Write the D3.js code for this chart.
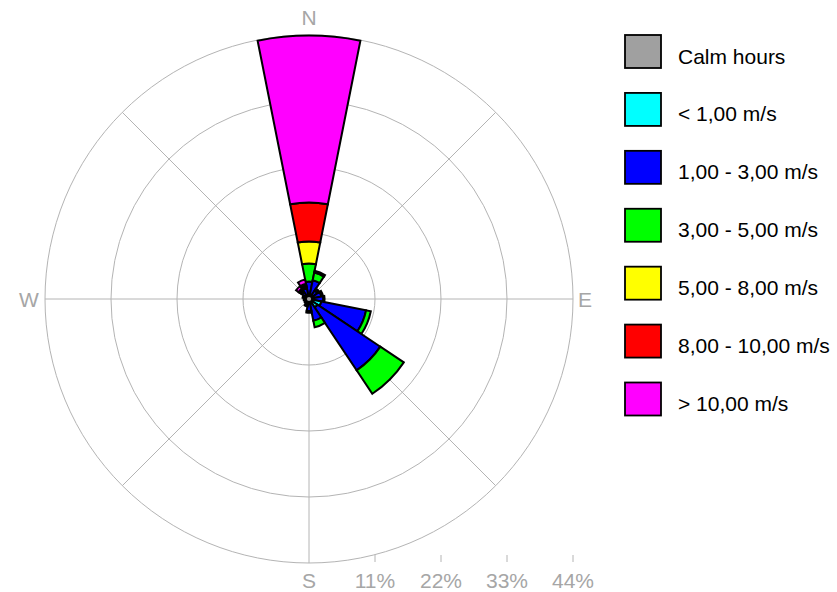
<!DOCTYPE html>
<html><head><meta charset="utf-8">
<script src="https://cdn.jsdelivr.net/npm/d3@7"></script>
<style>body{margin:0;background:#fff}svg{display:block}</style>
</head><body>
<script>
// ---- data ----
const directions = ["N","NNE","NE","ENE","E","ESE","SE","SSE","S","SSW","SW","WSW","W","WNW","NW","NNW"];
const speedClasses = ["< 1,00 m/s","1,00 - 3,00 m/s","3,00 - 5,00 m/s","5,00 - 8,00 m/s","8,00 - 10,00 m/s","> 10,00 m/s"];
const classColors = ["#00ffff","#0000ff","#00ff00","#ffff00","#ff0000","#ff00ff"];
const calmLabel = "Calm hours";
const calmColor = "#a0a0a0";
const calmPct = 0.35;
// percent frequency per direction for each speed class
const below1  = [0.7,0.6,0.6,0.8,0.9,2.1,1.7,0.9,0.6,0.4,0.3,0.3,0.3,0.3,0.4,0.4];
const s1to3   = [2.2,2.6,1.1,1.3,1.5,7.6,12.6,2.8,1.4,0.7,0.4,0.3,0.4,0.6,1.0,1.4];
const s3to5   = [3.0,1.3,0.3,0.3,0.2,0.8,4.7,1.1,0.3,0.2,0.2,0.1,0.2,0.2,0.3,0.3];
const s5to8   = [3.7,0.3,0.1,0,0,0,0,0,0,0,0,0,0,0,0.2,0.3];
const s8to10  = [6.5,0,0,0,0,0,0,0,0,0,0,0,0,0,0.2,0.2];
const above10 = [27.8,0,0,0,0,0,0,0,0,0,0,0,0,0,0.5,0.7];
const ringTicks = [11,22,33,44];
const ringLabels = ["11%","22%","33%","44%"];
const compass = ["N","E","S","W"];

const series = [below1,s1to3,s3to5,s5to8,s8to10,above10];

// ---- layout ----
const W = 837, H = 592;
const cx = 309, cy = 299, R = 264;
const svg = d3.select("body").append("svg").attr("width",W).attr("height",H);
const r = d3.scaleLinear().domain([0,44]).range([0,R]);
const ang = d3.scaleBand().domain(directions).range([-Math.PI/16, 2*Math.PI - Math.PI/16]);

const g = svg.append("g").attr("transform",`translate(${cx},${cy})`);
const gridColor = "#b4b4b4";

// rings
g.selectAll("circle.ring").data(ringTicks).join("circle")
  .attr("class","ring").attr("r",d=>r(d))
  .attr("fill","none").attr("stroke",gridColor).attr("stroke-width",1);
// spokes
g.selectAll("line.spoke").data([0,45,90,135,180,225,270,315]).join("line")
  .attr("x1",0).attr("y1",0)
  .attr("x2",d=>R*Math.sin(d*Math.PI/180))
  .attr("y2",d=>-R*Math.cos(d*Math.PI/180))
  .attr("stroke",gridColor).attr("stroke-width",1);

// petals
const arc = d3.arc();
const segs = [];
directions.forEach((dir,i)=>{
  let cum = 0;
  series.forEach((s,k)=>{
    const v = s[i];
    if (v>0){
      segs.push({dir, k, inner: cum, outer: cum+v});
      cum += v;
    }
  });
});
g.selectAll("path.seg").data(segs).join("path")
  .attr("class","seg")
  .attr("d",d=>arc({innerRadius:r(d.inner),outerRadius:r(d.outer),
       startAngle:ang(d.dir),endAngle:ang(d.dir)+ang.bandwidth()}))
  .attr("fill",d=>classColors[d.k])
  .attr("stroke","#000").attr("stroke-width",2).attr("stroke-linejoin","miter");

// calm
g.append("circle").attr("r",r(calmPct)).attr("fill",calmColor).attr("stroke","none");

// compass labels
const labColor = "#a6a6a6";
const font = "'Liberation Sans', Arial, sans-serif";
const compPos = {N:[cx,25],E:[585,307],S:[cx,588],W:[29,307]};
svg.selectAll("text.comp").data(compass).join("text")
  .attr("class","comp")
  .attr("x",d=>compPos[d][0]).attr("y",d=>compPos[d][1])
  .attr("text-anchor","middle").attr("font-family",font).attr("font-size",21)
  .attr("fill",labColor).text(d=>d);

// ring ticks & labels along bottom
svg.selectAll("line.tick").data(ringTicks).join("line")
  .attr("x1",d=>cx+r(d)).attr("x2",d=>cx+r(d))
  .attr("y1",555).attr("y2",562)
  .attr("stroke",gridColor).attr("stroke-width",1);
svg.selectAll("text.rl").data(ringTicks).join("text")
  .attr("class","rl")
  .attr("x",d=>cx+r(d)).attr("y",588)
  .attr("text-anchor","middle").attr("font-family",font).attr("font-size",21)
  .attr("fill",labColor).text((d,i)=>ringLabels[i]);

// legend
const legItems = [{label:calmLabel,color:calmColor}].concat(speedClasses.map((s,i)=>({label:s,color:classColors[i]})));
const leg = svg.append("g");
const legY = d3.scaleLinear().domain([0,6]).range([51.5,399]);
leg.selectAll("rect").data(legItems).join("rect")
  .attr("x",625).attr("y",(d,i)=>legY(i)-16.5)
  .attr("width",36).attr("height",33)
  .attr("fill",d=>d.color).attr("stroke","#000").attr("stroke-width",1.8);
leg.selectAll("text").data(legItems).join("text")
  .attr("x",678).attr("y",(d,i)=>legY(i)+12)
  .attr("font-family",font).attr("font-size",21).attr("fill","#000")
  .text(d=>d.label);
</script>
</body></html>
